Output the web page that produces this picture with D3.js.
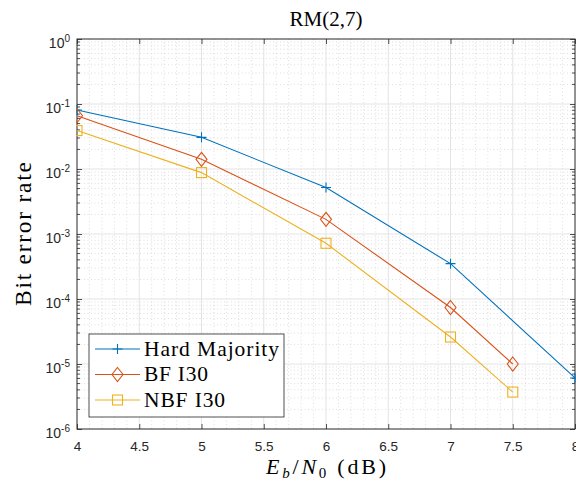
<!DOCTYPE html>
<html>
<head>
<meta charset="utf-8">
<script src="https://cdn.jsdelivr.net/npm/d3@7"></script>
<style>
  body { margin: 0; background: #fff; }
  svg { display: block; }
</style>
</head>
<body>
<div id="viz"></div>
<script>
// Eb/N0 points (dB)
const snrHard = [4, 5, 6, 7, 8];
const snrBf = [4, 5, 6, 7, 7.5];
const snrNbf = [4, 5, 6, 7, 7.5];

// bit error rates
const berHard = [0.081, 0.0307, 0.0052, 3.5e-4, 6.1e-6];
const berBf = [0.066, 0.0141, 0.00168, 7.4e-5, 1.0e-5];
const berNbf = [0.039, 0.0088, 7.2e-4, 2.6e-5, 3.7e-6];

const seriesNames = ["Hard Majority", "BF I30", "NBF I30"];
const legendWidths = [135, 64, 81];
const xTicks = [4, 4.5, 5, 5.5, 6, 6.5, 7, 7.5, 8];
const yExponents = [0, -1, -2, -3, -4, -5, -6];

const width = 576;
const height = 483;
const margin = {top: 39, right: 1, bottom: 54, left: 77};
const innerWidth = width - margin.left - margin.right;
const innerHeight = height - margin.top - margin.bottom;

const colors = ["#0072BD", "#D95319", "#EDB120"];
const markers = ["plus", "diamond", "square"];
const axisColor = "#262626";
const tickFont = "'Liberation Sans', Arial, sans-serif";
const serif = "'Liberation Serif', 'Times New Roman', serif";

const svg = d3.select("#viz")
    .append("svg")
    .attr("width", width)
    .attr("height", height);

const xScale = d3.scaleLinear()
    .domain([4, 8])
    .range([0, innerWidth]);

const yScale = d3.scaleLog()
    .domain([1e-6, 1])
    .range([innerHeight, 0]);

const g = svg.append("g")
    .attr("transform", `translate(${margin.left}, ${margin.top})`);

// minor grid (dotted)
const xMinor = d3.range(40, 81).map(d => d / 10).filter(d => Math.abs(d * 2 - Math.round(d * 2)) > 1e-9);
const yMinor = [];
for (let e = -6; e < 0; e++) {
    for (let m = 2; m <= 9; m++) yMinor.push(m * Math.pow(10, e));
}

g.append("g").selectAll("line").data(xMinor)
    .enter().append("line")
        .attr("x1", d => xScale(d)).attr("x2", d => xScale(d))
        .attr("y1", 0).attr("y2", innerHeight)
        .attr("stroke", "#c8c8c8")
        .attr("stroke-width", 0.6)
        .attr("stroke-dasharray", "1,2.5");

g.append("g").selectAll("line").data(yMinor)
    .enter().append("line")
        .attr("x1", 0).attr("x2", innerWidth)
        .attr("y1", d => yScale(d)).attr("y2", d => yScale(d))
        .attr("stroke", "#c8c8c8")
        .attr("stroke-width", 0.6)
        .attr("stroke-dasharray", "1,2.5");

// major grid
g.append("g").selectAll("line").data(xTicks.slice(1, -1))
    .enter().append("line")
        .attr("x1", d => xScale(d)).attr("x2", d => xScale(d))
        .attr("y1", 0).attr("y2", innerHeight)
        .attr("stroke", "#e3e3e3")
        .attr("stroke-width", 1);

g.append("g").selectAll("line").data(yExponents.slice(1, -1))
    .enter().append("line")
        .attr("x1", 0).attr("x2", innerWidth)
        .attr("y1", d => yScale(Math.pow(10, d))).attr("y2", d => yScale(Math.pow(10, d)))
        .attr("stroke", "#e3e3e3")
        .attr("stroke-width", 1);

// axes with inward ticks
const xAxis = g.append("g")
    .attr("transform", `translate(0, ${innerHeight})`)
    .call(d3.axisBottom(xScale).tickValues(xTicks).tickSizeInner(-5).tickSizeOuter(0).tickPadding(12).tickFormat(d3.format("")));

g.append("g")
    .call(d3.axisTop(xScale).tickValues(xTicks).tickSizeInner(-5).tickSizeOuter(0).tickFormat(""));

const yMajorVals = yExponents.map(e => Math.pow(10, e));
g.append("g")
    .call(d3.axisLeft(yScale).tickValues(yMajorVals).tickSizeInner(-5).tickSizeOuter(0).tickFormat(""));

g.append("g")
    .attr("transform", `translate(${innerWidth}, 0)`)
    .call(d3.axisRight(yScale).tickValues(yMajorVals).tickSizeInner(-5).tickSizeOuter(0).tickFormat(""));

// minor y ticks
[0, innerWidth].forEach((x0, i) => {
    g.append("g").selectAll("line").data(yMinor)
        .enter().append("line")
            .attr("x1", x0).attr("x2", i === 0 ? x0 + 3 : x0 - 3)
            .attr("y1", d => yScale(d)).attr("y2", d => yScale(d))
            .attr("stroke", axisColor)
            .attr("stroke-width", 0.8);
});

g.selectAll(".domain").attr("stroke", "none");
g.selectAll(".tick line").attr("stroke", axisColor).attr("stroke-width", 0.8);

xAxis.selectAll("text")
    .attr("fill", axisColor)
    .style("font-family", tickFont)
    .style("font-size", "13.5px");

// y tick labels as 10^k
const yLabels = g.append("g").selectAll("text").data(yExponents)
    .enter().append("text")
        .attr("x", -7)
        .attr("y", d => yScale(Math.pow(10, d)) + 8.5)
        .attr("text-anchor", "end")
        .attr("fill", axisColor)
        .style("font-family", tickFont)
        .style("font-size", "14px");
yLabels.append("tspan").text("10");
yLabels.append("tspan")
    .attr("dy", -6)
    .style("font-size", "10px")
    .text(d => d === 0 ? "0" : "-" + Math.abs(d));

// box
g.append("rect")
    .attr("width", innerWidth)
    .attr("height", innerHeight)
    .attr("fill", "none")
    .attr("stroke", axisColor)
    .attr("stroke-width", 1);

// clip for data
svg.append("defs").append("clipPath").attr("id", "plotclip")
    .append("rect").attr("x", -1).attr("y", -1)
    .attr("width", innerWidth + 2).attr("height", innerHeight + 2);

const series = [
    {x: snrHard, y: berHard},
    {x: snrBf, y: berBf},
    {x: snrNbf, y: berNbf}
];

const line = d3.line()
    .x(d => xScale(d[0]))
    .y(d => yScale(d[1]));

const drawMarker = (sel, type, color) => {
    if (type === "plus") {
        sel.append("path").attr("d", "M-5,0H5M0,-5V5")
            .attr("stroke", color).attr("stroke-width", 1.1).attr("fill", "none");
    } else if (type === "diamond") {
        sel.append("path").attr("d", "M0,-7L5.5,0L0,7L-5.5,0Z")
            .attr("stroke", color).attr("stroke-width", 1.1).attr("fill", "none");
    } else {
        sel.append("rect").attr("x", -5).attr("y", -5).attr("width", 10).attr("height", 10)
            .attr("stroke", color).attr("stroke-width", 1.1).attr("fill", "none");
    }
};

const dataG = g.append("g").attr("clip-path", "url(#plotclip)");
series.forEach((s, i) => {
    const pts = s.x.map((x, j) => [x, s.y[j]]);
    dataG.append("path")
        .datum(pts)
        .attr("d", line)
        .attr("fill", "none")
        .attr("stroke", colors[i])
        .attr("stroke-width", 1.1);
    dataG.selectAll(".m" + i).data(pts)
        .enter().append("g")
            .attr("class", "m" + i)
            .attr("transform", d => `translate(${xScale(d[0])}, ${yScale(d[1])})`)
            .each(function () { drawMarker(d3.select(this), markers[i], colors[i]); });
});

// legend
const legend = g.append("g").attr("transform", "translate(12, 295)");
legend.append("rect")
    .attr("width", 195)
    .attr("height", 83)
    .attr("fill", "#fff")
    .attr("stroke", axisColor)
    .attr("stroke-width", 0.8);
seriesNames.forEach((name, i) => {
    const row = legend.append("g").attr("transform", `translate(0, ${15 + i * 25.5})`);
    row.append("line").attr("x1", 6).attr("x2", 51).attr("y1", 0).attr("y2", 0)
        .attr("stroke", colors[i]).attr("stroke-width", 1.1);
    drawMarker(row.append("g").attr("transform", "translate(28.5, 0)"), markers[i], colors[i]);
    row.append("text")
        .attr("x", 55).attr("y", 6.5)
        .attr("fill", "#000")
        .attr("textLength", legendWidths[i])
        .attr("lengthAdjust", "spacing")
        .style("font-family", serif)
        .style("font-size", "21.5px")
        .text(name);
});

// title and axis labels
svg.append("text")
    .attr("x", margin.left + innerWidth / 2)
    .attr("y", 26)
    .attr("text-anchor", "middle")
    .style("font-family", serif)
    .style("font-size", "21px")
    .text("RM(2,7)");

const xl = svg.append("text")
    .attr("x", margin.left + innerWidth / 2)
    .attr("y", 474)
    .attr("text-anchor", "middle")
    .attr("textLength", 120)
    .attr("lengthAdjust", "spacing")
    .style("font-family", serif)
    .style("font-size", "22px");
xl.append("tspan").style("font-style", "italic").text("E");
xl.append("tspan").attr("dy", 4).style("font-style", "italic").style("font-size", "15px").text("b");
xl.append("tspan").attr("dy", -4).text("/");
xl.append("tspan").style("font-style", "italic").text("N");
xl.append("tspan").attr("dy", 4).style("font-size", "15px").text("0");
xl.append("tspan").attr("dy", -4).text("  (dB)");

svg.append("text")
    .attr("transform", `translate(31, ${margin.top + innerHeight / 2}) rotate(-90)`)
    .attr("text-anchor", "middle")
    .attr("textLength", 144)
    .attr("lengthAdjust", "spacing")
    .style("font-family", serif)
    .style("font-size", "23.5px")
    .text("Bit error rate");
</script>
</body>
</html>
